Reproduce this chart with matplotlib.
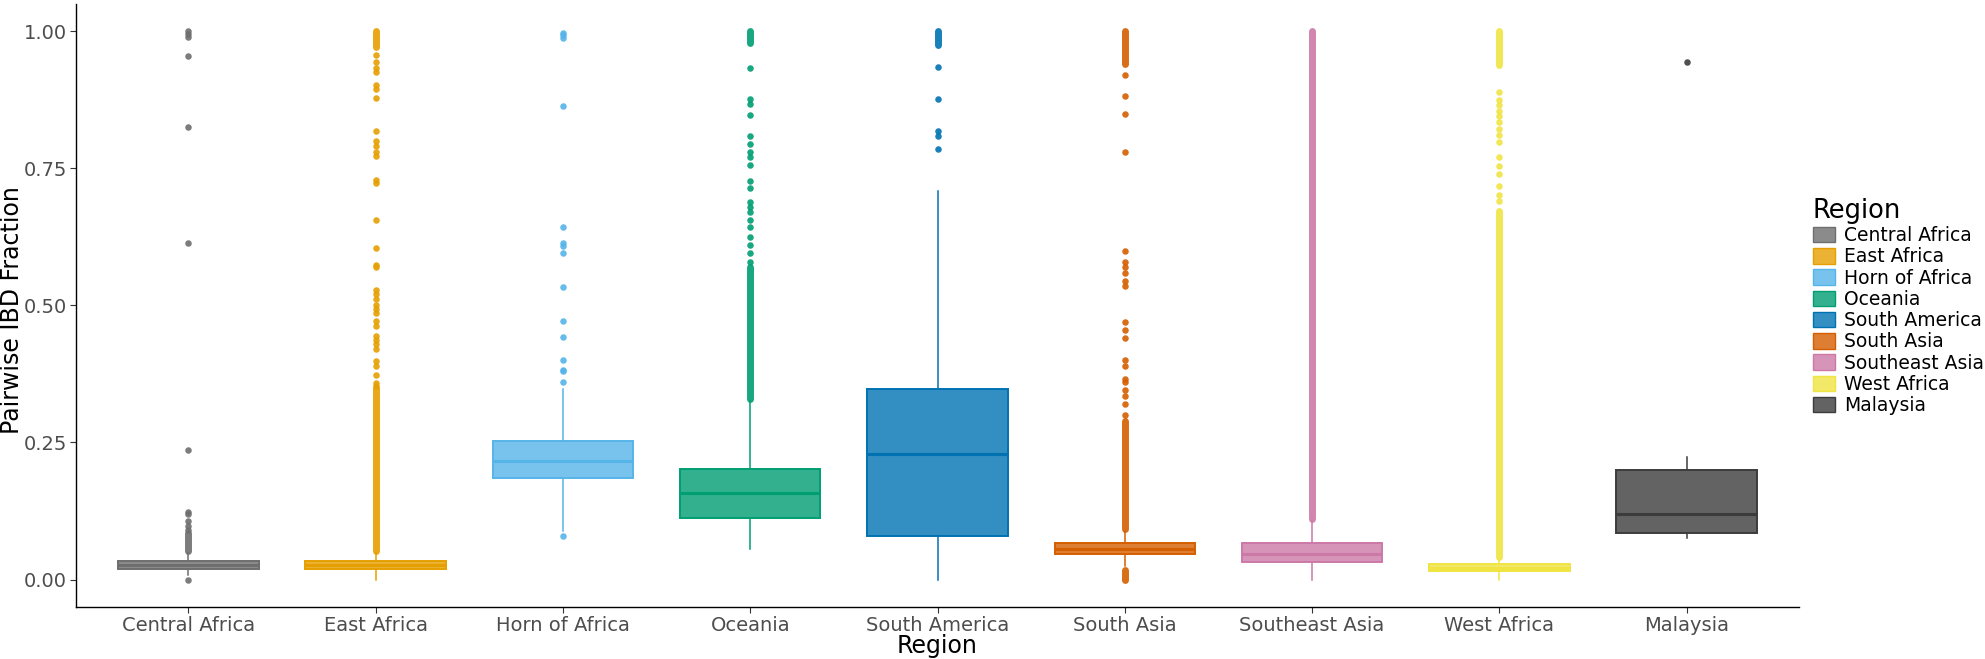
import matplotlib
matplotlib.use("Agg")
import matplotlib.pyplot as plt
from matplotlib.patches import Patch
from matplotlib.colors import to_rgba

REGIONS = ["Central Africa", "East Africa", "Horn of Africa", "Oceania", "South America",
           "South Asia", "Southeast Asia", "West Africa", "Malaysia"]
COLORS = ["#6e6e6e", "#E69F00", "#56B4E9", "#009E73", "#0072B2",
          "#D55E00", "#CC79A7", "#F0E442", "#3c3c3c"]

# box statistics
Q1 = [0.020, 0.019, 0.186, 0.112, 0.079, 0.046, 0.032, 0.015, 0.084]
MED = [0.027, 0.026, 0.216, 0.158, 0.229, 0.056, 0.047, 0.021, 0.119]
Q3 = [0.034, 0.034, 0.253, 0.201, 0.347, 0.066, 0.066, 0.028, 0.200]
WLO = [0.008, 0.000, 0.089, 0.056, 0.000, 0.025, 0.000, 0.000, 0.076]
WHI = [0.049, 0.050, 0.347, 0.326, 0.709, 0.089, 0.108, 0.040, 0.223]

# individual outliers
OUT_CENTRAL = [0.0, 0.09, 0.097, 0.106, 0.12, 0.124, 0.236, 0.614, 0.826, 0.955, 0.99, 0.995, 1.0]
OUT_EAST = [0.353, 0.359, 0.374, 0.39, 0.398, 0.421, 0.43, 0.437, 0.444, 0.463, 0.471, 0.486,
            0.493, 0.5, 0.511, 0.52, 0.528, 0.57, 0.574, 0.605, 0.656, 0.723, 0.728, 0.773,
            0.78, 0.79, 0.8, 0.818, 0.878, 0.895, 0.902, 0.925, 0.933, 0.944, 0.957]
OUT_HORN = [0.079, 0.361, 0.38, 0.382, 0.40, 0.442, 0.472, 0.533, 0.595, 0.609, 0.614,
            0.643, 0.863, 0.988, 0.993, 0.997]
OUT_OCEANIA = [0.58, 0.595, 0.61, 0.625, 0.643, 0.655, 0.67, 0.68, 0.689, 0.715, 0.727,
               0.757, 0.77, 0.78, 0.795, 0.809, 0.847, 0.868, 0.876, 0.933]
OUT_SAMERICA = [0.785, 0.809, 0.818, 0.877, 0.935]
OUT_SASIA = [0.30, 0.32, 0.335, 0.345, 0.36, 0.365, 0.39, 0.40, 0.44, 0.455, 0.47, 0.535,
             0.545, 0.56, 0.57, 0.58, 0.60, 0.78, 0.85, 0.882, 0.92]
OUT_SEASIA = []
OUT_WEST = [0.69, 0.702, 0.717, 0.739, 0.755, 0.771, 0.799, 0.811, 0.822, 0.835, 0.845,
            0.855, 0.865, 0.875, 0.889]
OUT_MALAYSIA = [0.944]
OUTLIERS = [OUT_CENTRAL, OUT_EAST, OUT_HORN, OUT_OCEANIA, OUT_SAMERICA,
            OUT_SASIA, OUT_SEASIA, OUT_WEST, OUT_MALAYSIA]

# ranges where outliers overlap into a solid column (lo, hi)
DENSE = [[(0.052, 0.085)],
         [(0.052, 0.35), (0.971, 1.0)],
         [],
         [(0.33, 0.57), (0.978, 1.0)],
         [(0.975, 1.0)],
         [(0.0, 0.018), (0.092, 0.29), (0.94, 1.0)],
         [(0.11, 1.0)],
         [(0.042, 0.672), (0.938, 1.0)],
         []]

FILL_ALPHA = 0.8
fig = plt.figure(figsize=(19.85, 6.59), dpi=100)
ax = fig.add_axes([0.0383, 0.079, 0.868, 0.915])

stats = []
for i, r in enumerate(REGIONS):
    stats.append(dict(label=r, q1=Q1[i], med=MED[i], q3=Q3[i],
                      whislo=WLO[i], whishi=WHI[i], fliers=[]))

pos = list(range(1, len(REGIONS) + 1))
bp = ax.bxp(stats, positions=pos, widths=0.75, patch_artist=True,
            showcaps=False, showfliers=False)
for i, c in enumerate(COLORS):
    bp["boxes"][i].set_facecolor(to_rgba(c, FILL_ALPHA))
    bp["boxes"][i].set_edgecolor(c)
    bp["boxes"][i].set_linewidth(1.4)
    bp["medians"][i].set_color(c)
    bp["medians"][i].set_linewidth(2.2)
    for w in bp["whiskers"][2 * i:2 * i + 2]:
        w.set_color(c)
        w.set_linewidth(1.1)
    for lo, hi in DENSE[i]:
        ax.vlines(pos[i], lo, hi, color=c, alpha=0.9, lw=5.0, capstyle="round", zorder=3)
    if OUTLIERS[i]:
        ax.scatter([pos[i]] * len(OUTLIERS[i]), OUTLIERS[i], s=22, color=c,
                   alpha=0.9, lw=0, zorder=3)

ax.set_xlim(0.4, len(REGIONS) + 0.6)
ax.set_ylim(-0.05, 1.05)
ax.set_yticks([0, 0.25, 0.5, 0.75, 1.0])
ax.set_yticklabels(["0.00", "0.25", "0.50", "0.75", "1.00"])
ax.set_xticks(pos)
ax.set_xticklabels(REGIONS)
ax.tick_params(axis="both", labelsize=14, labelcolor="#4d4d4d", color="#333333",
               length=4, width=0.8, pad=2.5)
for s in ("top", "right"):
    ax.spines[s].set_visible(False)
for s in ("left", "bottom"):
    ax.spines[s].set_linewidth(1.0)
fig.text(0.472, 0.02, "Region", fontsize=17, ha="center", va="center")
fig.text(0.0058, 0.53, "Pairwise IBD Fraction", fontsize=17, rotation=90,
         ha="center", va="center")

handles = [Patch(facecolor=to_rgba(c, FILL_ALPHA), edgecolor=c, label=r)
           for r, c in zip(REGIONS, COLORS)]
leg = fig.legend(handles=handles, title="Region", loc="center left",
                 bbox_to_anchor=(0.9095, 0.535), frameon=False, fontsize=13.5,
                 title_fontsize=18.5, handlelength=1.2, handleheight=0.9,
                 handletextpad=0.45, labelspacing=0.12, borderaxespad=0)
leg._legend_box.align = "left"

fig.savefig("out.png", dpi=100)
